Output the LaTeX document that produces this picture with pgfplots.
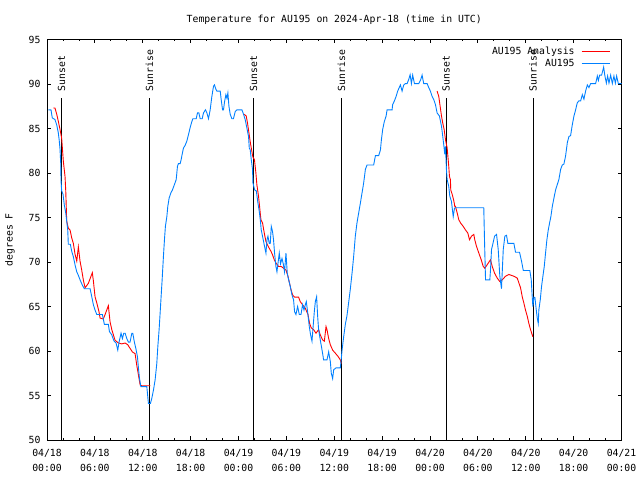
\documentclass[border=0pt]{standalone}
\usepackage{pgfplots}
\pgfplotsset{compat=1.18}
\usepackage{fontspec}
\setmainfont{DejaVu Sans Mono}
\setmonofont{DejaVu Sans Mono}
\definecolor{obsblue}{RGB}{0,128,255}
\definecolor{anred}{RGB}{255,0,0}
\begin{document}
\fontsize{9.8}{15}\selectfont
\begin{tikzpicture}
\useasboundingbox (0,0) rectangle (640pt,480pt);
\begin{axis}[
  at={(47pt,40pt)}, anchor=south west,
  scale only axis, width=574.5pt, height=400.5pt,
  xmin=0, xmax=72, ymin=50, ymax=95,
  xtick={0,6,...,72},
  xticklabels={{04/18\\00:00},{04/18\\06:00},{04/18\\12:00},{04/18\\18:00},{04/19\\00:00},{04/19\\06:00},{04/19\\12:00},{04/19\\18:00},{04/20\\00:00},{04/20\\06:00},{04/20\\12:00},{04/20\\18:00},{04/21\\00:00}},
  xticklabel style={align=center, font=\fontsize{9.8}{15}\selectfont, yshift=-6pt},
  yticklabel style={font=\fontsize{9.8}{12}\selectfont, xshift=-3pt},
  minor x tick num=2,
  ytick={50,55,...,95},
  /pgf/number format/assume math mode=true,
  tick align=inside,
  major tick length=4pt, minor tick length=2pt,
  tick style={black, line width=0.8pt},
  axis line style={line width=0.8pt},
  ylabel={degrees F},
  ylabel style={at={(axis description cs:-0.0645,0.5)}, anchor=center, font=\fontsize{9.8}{12}\selectfont},
  title={Temperature for AU195 on 2024-Apr-18 (time in UTC)},
  every axis title shift=0pt,
  title style={at={(axis description cs:0.5,1.05)}, anchor=center, font=\fontsize{9.8}{12}\selectfont},
  legend plot pos=right,
  legend cell align=right,
  legend image code/.code={\path[draw=none] (0pt,0pt) -- (33pt,0pt); \draw[#1] (5pt,0pt) -- (33pt,0pt);},
  legend style={at={(axis description cs:0.9805,0.987)}, anchor=north east, draw=none, fill=none, inner sep=0pt, row sep=-0.5pt, font=\fontsize{9.8}{12}\selectfont},
]
% sunrise / sunset lines
\addplot[black, line width=0.8pt, forget plot] coordinates {(1.84,50) (1.84,88.4)};
\addplot[black, line width=0.8pt, forget plot] coordinates {(12.84,50) (12.84,88.4)};
\addplot[black, line width=0.8pt, forget plot] coordinates {(25.9,50) (25.9,88.4)};
\addplot[black, line width=0.8pt, forget plot] coordinates {(36.9,50) (36.9,88.4)};
\addplot[black, line width=0.8pt, forget plot] coordinates {(50.0,50) (50.0,88.4)};
\addplot[black, line width=0.8pt, forget plot] coordinates {(60.9,50) (60.9,88.4)};
\node[rotate=90, anchor=west, inner sep=0pt] at (axis cs:1.84,89.15) {Sunset};
\node[rotate=90, anchor=west, inner sep=0pt] at (axis cs:12.84,89.15) {Sunrise};
\node[rotate=90, anchor=west, inner sep=0pt] at (axis cs:25.9,89.15) {Sunset};
\node[rotate=90, anchor=west, inner sep=0pt] at (axis cs:36.9,89.15) {Sunrise};
\node[rotate=90, anchor=west, inner sep=0pt] at (axis cs:50.0,89.15) {Sunset};
\node[rotate=90, anchor=west, inner sep=0pt] at (axis cs:60.9,89.15) {Sunrise};
% analysis (red)
\addplot[anred, line width=0.9pt] table {
0.79 87.3
1.00 87.3
1.22 86.6
1.42 85.8
1.63 84.9
1.84 83.9
2.05 81.3
2.26 79.6
2.35 78.0
2.47 74.6
2.67 73.8
2.89 73.6
3.10 72.7
3.30 72.1
3.51 70.9
3.73 70.1
3.93 71.7
4.14 70.1
4.35 69.1
4.55 68.0
4.77 67.1
5.18 67.6
5.68 68.8
5.81 67.9
6.02 66.1
6.24 65.4
6.52 64.4
6.65 63.7
7.06 63.6
7.28 64.1
7.69 65.1
7.90 63.3
8.12 62.4
8.53 61.2
8.95 60.9
9.37 60.8
9.79 60.9
10.12 60.7
10.41 60.3
10.70 59.9
11.04 59.7
11.25 58.4
11.46 57.3
11.67 56.2
11.88 56.1
12.96 56.1
};
\addlegendentry{AU195 Analysis}
\addplot[anred, line width=0.9pt, forget plot] table {
24.72 86.6
24.97 86.4
25.13 85.6
25.31 84.5
25.47 83.5
25.68 82.4
25.80 81.8
26.00 81.5
26.18 80.0
26.30 78.7
26.51 77.4
26.64 76.25
26.81 74.75
27.01 74.4
27.23 73.25
27.44 72.3
27.64 71.9
27.85 71.55
28.07 71.2
28.27 70.8
28.48 70.25
28.69 69.9
29.02 69.5
29.36 69.5
29.65 69.3
29.95 69.1
30.20 68.4
30.40 67.6
30.58 66.9
30.78 66.3
31.03 66.05
31.53 66.05
31.74 65.55
32.03 65.2
32.37 64.8
32.71 64.1
32.91 63.1
33.12 62.6
33.41 62.4
33.71 62.0
34.04 62.4
34.25 61.8
34.54 61.25
34.76 61.1
34.97 62.75
35.09 62.4
35.30 61.4
35.51 60.7
35.80 60.1
36.14 59.75
36.47 59.4
36.76 59.0
36.89 58.6
};
\addplot[anred, line width=0.9pt, forget plot] table {
48.89 89.2
49.10 88.6
49.27 87.5
49.44 86.4
49.60 85.6
49.77 84.9
49.94 83.75
50.15 82.8
50.28 81.5
50.35 80.75
50.44 79.6
50.56 79.25
50.60 78.1
50.78 77.6
50.98 76.9
51.11 76.25
51.19 76.25
51.41 75.5
51.61 74.75
51.82 74.4
52.16 74.0
52.45 73.6
52.74 73.25
52.95 72.5
53.20 72.9
53.49 73.1
53.61 72.5
53.83 71.75
54.12 71.0
54.42 70.25
54.67 69.5
54.87 69.3
55.17 69.7
55.58 70.25
55.80 69.5
56.09 68.75
56.42 68.2
56.75 67.8
57.05 68.0
57.47 68.4
57.88 68.6
58.51 68.4
58.93 68.2
59.35 67.1
59.56 66.1
59.76 65.4
59.97 64.6
60.19 63.9
60.39 63.1
60.60 62.4
60.89 61.6
};
% observed (blue)
\addplot[obsblue, line width=0.9pt] table {
0.16 87.1
0.50 87.1
0.66 86.2
1.00 86.0
1.22 85.4
1.42 84.5
1.54 83.6
1.63 82.7
1.72 81.1
1.76 79.1
1.84 78.0
2.01 77.6
2.17 76.4
2.35 75.5
2.47 74.6
2.60 73.6
2.67 72.0
2.92 72.0
3.10 71.2
3.30 70.6
3.51 69.7
3.73 68.9
3.93 68.5
4.14 68.0
4.43 67.4
4.68 67.0
5.40 67.0
5.61 66.1
5.81 65.2
6.02 64.6
6.24 64.1
6.94 64.1
7.19 63.0
7.69 63.0
7.82 62.2
8.12 61.8
8.41 61.1
8.66 60.9
8.87 60.1
9.03 61.0
9.28 62.0
9.45 61.4
9.62 62.0
9.79 62.0
10.00 61.4
10.20 61.0
10.41 61.0
10.63 62.0
10.75 62.0
10.95 61.0
11.13 60.3
11.33 59.4
11.46 58.1
11.58 57.0
11.76 56.0
12.51 56.0
12.71 54.1
12.96 54.1
13.14 54.7
13.34 55.6
13.55 56.75
13.76 58.6
13.89 60.5
14.05 62.4
14.18 64.3
14.30 66.1
14.43 68.0
14.59 70.6
14.72 72.5
14.84 74.0
15.02 75.1
15.14 76.25
15.31 77.2
15.52 77.75
15.72 78.1
15.97 78.7
16.19 79.25
16.35 80.75
16.47 81.05
16.69 81.05
16.81 81.5
16.94 82.1
17.10 82.8
17.31 83.1
17.53 83.6
17.73 84.3
17.94 85.1
18.16 85.8
18.28 86.1
18.70 86.1
18.86 86.75
19.03 86.75
19.20 86.1
19.45 86.1
19.61 86.75
19.86 87.1
20.04 86.75
20.24 86.1
20.45 87.1
20.66 88.6
20.87 89.75
20.99 89.9
21.17 89.4
21.29 89.2
21.71 89.2
21.83 88.25
22.00 87.1
22.12 87.1
22.25 88.0
22.42 88.8
22.55 88.4
22.67 89.0
22.80 87.5
22.96 86.6
23.17 86.1
23.37 86.1
23.59 86.9
23.80 87.1
24.43 87.1
24.63 86.6
24.84 86.0
25.06 85.0
25.26 84.1
25.35 82.8
25.47 82.6
25.60 81.5
25.76 80.4
25.81 78.9
26.02 78.1
26.23 78.0
26.44 76.6
26.60 75.7
26.73 74.75
26.85 73.6
27.01 72.9
27.23 71.9
27.44 71.0
27.57 72.5
27.69 72.9
27.85 72.1
27.98 72.1
28.11 74.0
28.27 73.4
28.39 72.5
28.52 71.0
28.69 69.5
28.82 68.9
28.94 69.8
29.11 71.0
29.27 69.8
29.45 70.4
29.61 69.8
29.77 68.9
29.95 71.0
30.11 68.75
30.28 68.0
30.49 67.25
30.70 66.3
30.90 65.75
31.03 64.4
31.20 64.1
31.41 65.0
31.62 64.1
31.83 64.1
32.03 65.2
32.21 64.6
32.37 65.2
32.50 65.55
32.66 64.4
32.87 62.75
33.04 61.8
33.21 61.1
33.34 62.6
33.50 64.4
33.63 65.55
33.79 66.1
33.92 63.9
34.04 62.4
34.25 61.25
34.47 60.1
34.67 59.0
35.09 59.0
35.30 59.9
35.51 58.8
35.63 57.5
35.80 56.9
35.93 57.9
36.22 58.1
36.76 58.1
36.89 59.2
36.98 60.1
37.18 61.6
37.39 63.0
37.60 64.0
37.80 65.4
38.02 67.0
38.23 68.75
38.43 70.6
38.64 72.9
38.85 74.4
39.06 75.5
39.27 76.6
39.48 77.75
39.69 78.9
39.90 80.4
40.11 80.9
40.94 80.9
41.16 81.95
41.57 81.95
41.79 82.6
41.91 83.75
42.07 84.9
42.28 85.8
42.50 86.4
42.62 87.1
43.25 87.1
43.32 87.7
43.54 88.1
43.75 88.6
43.95 89.2
44.29 89.9
44.50 89.2
44.71 89.9
44.92 90.05
45.13 90.05
45.33 90.5
45.51 91.05
45.67 90.05
45.83 91.0
46.05 90.05
46.59 90.05
46.84 90.5
47.01 91.0
47.21 90.05
47.64 90.05
47.84 89.6
48.05 89.2
48.27 88.6
48.47 88.25
48.68 87.7
48.89 86.75
49.18 86.4
49.44 85.25
49.60 84.1
49.77 82.8
49.85 82.1
49.94 83.0
50.06 80.4
50.15 79.25
50.35 78.5
50.48 77.4
50.69 76.8
50.91 75.1
51.07 76.05
51.19 76.1
54.74 76.1
54.83 72.5
54.96 68.0
55.50 68.0
55.58 69.1
55.71 71.4
55.87 72.0
56.09 72.9
56.34 73.1
56.55 71.4
56.75 68.4
56.96 67.0
57.18 71.4
57.38 72.9
57.59 73.0
57.76 72.1
58.51 72.1
58.72 71.1
59.22 71.1
59.47 70.1
59.69 69.05
60.51 69.05
60.69 68.0
60.81 66.1
60.89 65.0
61.02 66.05
61.15 66.0
61.32 64.6
61.44 63.7
61.57 63.1
61.64 64.6
61.82 65.75
61.98 67.25
62.15 68.4
62.32 69.5
62.48 71.0
62.65 72.5
62.82 73.6
62.99 74.4
63.15 75.1
63.33 76.25
63.58 77.4
63.74 78.1
63.95 78.7
64.15 79.25
64.37 80.4
64.58 80.9
64.78 81.0
64.99 81.9
65.21 83.4
65.41 84.1
65.62 84.2
65.83 85.4
66.04 86.4
66.25 87.1
66.46 87.9
66.66 88.1
66.88 88.1
67.09 88.8
67.29 88.3
67.50 89.2
67.72 89.9
67.92 89.6
68.13 90.05
68.76 90.05
68.97 90.9
69.10 90.4
69.26 91.0
69.51 91.0
69.76 91.9
69.92 90.9
70.10 90.1
70.26 90.9
70.43 90.1
70.64 91.0
70.85 90.05
71.05 90.9
71.23 90.1
71.39 90.9
71.60 90.05
72.00 90.05
};
\addlegendentry{AU195}
\end{axis}
\end{tikzpicture}
\end{document}
